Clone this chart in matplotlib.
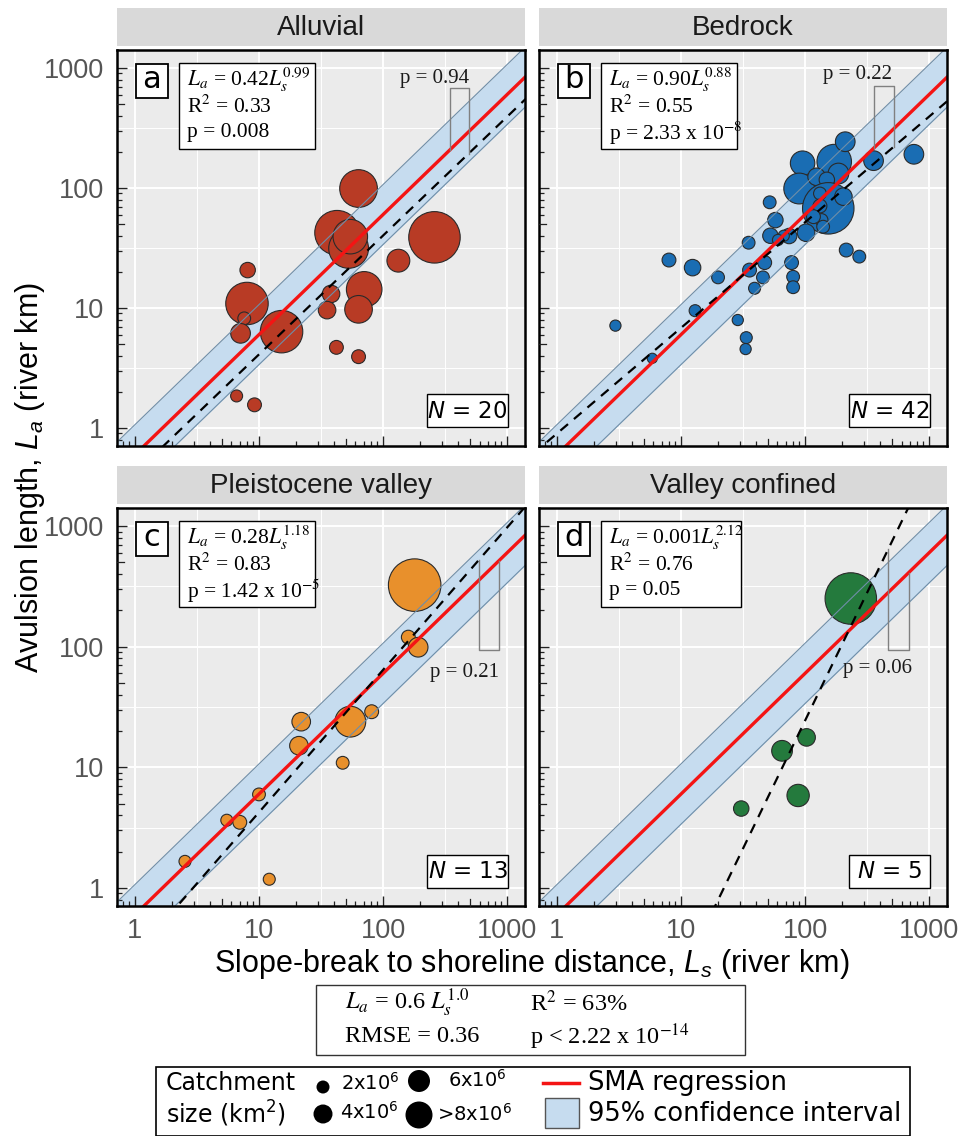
import numpy as np
import matplotlib
matplotlib.use("Agg")
import matplotlib.pyplot as plt
from matplotlib.patches import Rectangle
from matplotlib.ticker import FixedLocator, FixedFormatter, NullFormatter
from matplotlib.transforms import blended_transform_factory

plt.rcParams["mathtext.fontset"] = "custom"
plt.rcParams["mathtext.rm"] = "Liberation Sans"
plt.rcParams["mathtext.it"] = "Liberation Sans:italic"
plt.rcParams["mathtext.sf"] = "Liberation Sans"

# ---------------- data ----------------
panel_titles = ["Alluvial", "Bedrock", "Pleistocene valley", "Valley confined"]
panel_letters = ["a", "b", "c", "d"]
panel_colors = ["#B83B25", "#1A6DB3", "#E8902C", "#247A3D"]

# slope-break to shoreline distance Ls (river km), avulsion length La (river km),
# catchment size (10^6 km^2)
alluvial_Ls = [63.5, 42.6, 52.8, 54.5, 260, 133, 8.1, 8.0, 7.6, 7.1, 15.2, 38.1, 35.4, 70.5, 63.5, 42.1, 63.5, 6.6, 9.2, 48]
alluvial_La = [99, 42.4, 31.4, 39.3, 38.8, 24.8, 20.7, 10.9, 8.2, 6.15, 6.35, 13.1, 9.6, 14.3, 9.75, 4.7, 3.93, 1.85, 1.56, 36]
alluvial_area = [5.3, 6.6, 5.7, 4.7, 7.9, 2.5, 1.1, 6.2, 0.6, 1.9, 6.2, 1.5, 1.5, 4.9, 3.4, 0.8, 0.8, 0.45, 0.8, 2.1]
alluvial_order = [0, 1, 19, 2, 3, 4, 5, 6, 7, 8, 9, 10, 11, 12, 13, 14, 15, 16, 17, 18]

bedrock_Ls = [211, 755, 357, 95.6, 172, 89.8, 150, 154, 132, 136, 51.9, 57.7, 102, 52.6, 74.5, 67.4, 35.1,
              215, 274, 8.0, 12.4, 47.3, 77.9, 35.7, 19.9, 45.8, 80.2, 39.2, 80.2, 13.0, 2.96, 28.7, 33.6,
              33.2, 5.87, 132, 117, 204, 124, 140, 60.6, 186]
bedrock_La = [243, 191, 169, 161, 166, 99, 117, 67.7, 70.8, 54.1, 76, 54, 42.4, 40, 39.8, 40, 35,
              30.4, 26.8, 25.1, 21.7, 23.9, 23.9, 20.7, 18.0, 18.0, 18.2, 14.6, 14.9, 9.5, 7.13, 7.94, 5.66,
              4.55, 3.81, 90, 57.7, 84.7, 124, 47.6, 36.9, 132]
bedrock_area = [1.9, 1.9, 1.9, 2.8, 4.7, 4.0, 1.1, 7.9, 0.8, 0.6, 0.6, 1.1, 1.5, 1.1, 1.1, 0.3, 0.6,
                0.8, 0.6, 0.8, 1.3, 0.8, 0.8, 0.8, 0.6, 0.6, 0.6, 0.45, 0.6, 0.45, 0.3, 0.3, 0.45,
                0.3, 0.1, 0.6, 0.8, 1.5, 1.5, 0.6, 0.3, 2.1]
bedrock_order = [3, 5, 4, 0, 1, 2, 41, 38, 6, 7, 35, 37, 8, 9, 36, 39] + list(range(10, 35)) + [40]

pleist_Ls = [180, 160, 192, 81, 54.5, 21.9, 21.0, 47.3, 10.0, 5.5, 7.0, 2.53, 12.1]
pleist_La = [324, 120, 99, 28.9, 23.9, 23.9, 15.1, 10.9, 5.96, 3.64, 3.5, 1.66, 1.18]
pleist_area = [8.1, 0.8, 1.9, 0.8, 4.0, 1.7, 1.7, 0.6, 0.6, 0.45, 0.8, 0.45, 0.45]

confined_Ls = [234, 103, 65.3, 88, 30.6]
confined_La = [251, 17.7, 13.7, 5.84, 4.55]
confined_area = [7.9, 1.5, 2.1, 2.4, 1.1]

# per-category SMA fits (dashed lines) and statistics
fit_coef = [0.42, 0.90, 0.28, 0.0014]
fit_exp = [0.99, 0.88, 1.18, 2.12]
eq_coef_text = ["0.42", "0.90", "0.28", "0.001"]
eq_exp_text = ["0.99", "0.88", "1.18", "2.12"]
r2_text = ["0.33", "0.55", "0.83", "0.76"]
p_text = ["0.008", r"2.33 x 10$^{-8}$", r"1.42 x 10$^{-5}$", "0.05"]
n_text = ["20", "42", "13", "5"]
slope_p_text = ["0.94", "0.22", "0.21", "0.06"]
# bracket comparing category slope with global slope: x-positions and end level
bracket_x = [(344, 490), (362, 519), (597, 863), (470, 684)]
bracket_level = [685, 712, 94.4, 94.4]

# global SMA regression
global_coef = 0.6
global_exp = 1.0
ci_half_decades = 0.25

x_ticks = [1, 10, 100, 1000]
x_ticklabels = ["1", "10", "100", "1000"]
legend_size_labels = [r"2x10$^6$", r"4x10$^6$", r"6x10$^6$", r">8x10$^6$"]

# ---------------- layout ----------------
W, H, DPI = 962, 1136, 100
fig = plt.figure(figsize=(W / DPI, H / DPI), dpi=DPI)
fig.patch.set_facecolor("white")

panel_px = [(117, 50, 525, 446), (539, 50, 947, 446), (117, 508, 525, 906), (539, 508, 947, 906)]
XLIM = (10 ** -0.145, 10 ** 3.145)
YLIM = (10 ** -0.15, 10 ** 3.15)


def fig_rect(l, t, r, b):
    return [l / W, 1 - b / H, (r - l) / W, (b - t) / H]


def msize(area):
    r = 4.8 + 2.65 * np.asarray(area)
    return (2 * r * 72 / DPI) ** 2


datasets = [
    (alluvial_Ls, alluvial_La, alluvial_area, alluvial_order),
    (bedrock_Ls, bedrock_La, bedrock_area, bedrock_order),
    (pleist_Ls, pleist_La, pleist_area, list(range(len(pleist_Ls)))),
    (confined_Ls, confined_La, confined_area, list(range(len(confined_Ls)))),
]

serif = "Liberation Serif"
tick_color = "#555555"
band_fill = "#c6dcef"
band_edge = "#6f8ea8"

axes = []
for i, (Ls, La, area, order) in enumerate(datasets):
    l, t, r, b = panel_px[i]
    ax = fig.add_axes(fig_rect(l, t, r, b))
    axes.append(ax)
    ax.set_xscale("log")
    ax.set_yscale("log")
    ax.set_xlim(*XLIM)
    ax.set_ylim(*YLIM)
    ax.set_facecolor("#ebebeb")
    # grid
    for k in range(-1, 4):
        ax.axvline(10 ** (k + 0.5), color="white", lw=0.7, zorder=0.5)
        ax.axhline(10 ** (k + 0.5), color="white", lw=0.7, zorder=0.5)
        ax.axvline(10 ** k, color="white", lw=1.4, zorder=0.6)
        ax.axhline(10 ** k, color="white", lw=1.4, zorder=0.6)

    xs = np.logspace(-0.3, 3.3, 300)
    yc = global_coef * xs ** global_exp
    ax.fill_between(xs, yc / 10 ** ci_half_decades, yc * 10 ** ci_half_decades,
                    color=band_fill, lw=0, zorder=1)
    ax.plot(xs, yc / 10 ** ci_half_decades, color=band_edge, lw=0.8, zorder=4)
    ax.plot(xs, yc * 10 ** ci_half_decades, color=band_edge, lw=0.8, zorder=4)

    Ls_a = np.asarray(Ls)[order]
    La_a = np.asarray(La)[order]
    ar_a = np.asarray(area)[order]
    ax.scatter(Ls_a, La_a, s=msize(ar_a), c=panel_colors[i], edgecolors="#2a2a2a",
               linewidths=0.8, zorder=3)

    ax.plot(xs, yc, color="#f41414", lw=2.4, zorder=5)
    yd = fit_coef[i] * xs ** fit_exp[i]
    ax.plot(xs, yd, color="black", lw=1.6, dashes=(4.5, 3.5), zorder=6)

    # bracket
    x1, x2 = bracket_x[i]
    lev = bracket_level[i]
    if i < 2:
        y1 = global_coef * x1 ** global_exp
        y2 = fit_coef[i] * x2 ** fit_exp[i]
    else:
        y1 = fit_coef[i] * x1 ** fit_exp[i]
        y2 = global_coef * x2 ** global_exp
    ax.plot([x1, x1, x2, x2], [y1, lev, lev, y2], color="#808080", lw=1.0, zorder=6)

    # spines / ticks
    for sp in ax.spines.values():
        sp.set_color("black")
        sp.set_linewidth(1.8)
        sp.set_zorder(8)
    ax.xaxis.set_major_locator(FixedLocator(x_ticks))
    ax.yaxis.set_major_locator(FixedLocator(x_ticks))
    minors = [m * 10 ** k for k in range(-1, 4) for m in (2, 3, 4, 6, 7, 8, 9)]
    ax.xaxis.set_minor_locator(FixedLocator(minors))
    ax.yaxis.set_minor_locator(FixedLocator(minors))
    ax.xaxis.set_minor_formatter(NullFormatter())
    ax.yaxis.set_minor_formatter(NullFormatter())
    if i in (2, 3):
        ax.xaxis.set_major_formatter(FixedFormatter(x_ticklabels))
    else:
        ax.xaxis.set_major_formatter(NullFormatter())
    if i in (0, 2):
        ax.yaxis.set_major_formatter(FixedFormatter(x_ticklabels))
    else:
        ax.yaxis.set_major_formatter(NullFormatter())
    ax.tick_params(which="major", direction="in", length=7.5, width=1.0, color="#222222",
                   labelsize=19.5, labelcolor=tick_color, pad=9)
    ax.tick_params(which="minor", direction="in", length=3.8, width=0.9, color="#222222")
    for lab in ax.get_xticklabels() + ax.get_yticklabels():
        lab.set_family("Liberation Sans")
    # medium ticks at 5 x 10^k
    hpx = (b - t)
    wpx = (r - l)
    tx = blended_transform_factory(ax.transData, ax.transAxes)
    ty = blended_transform_factory(ax.transAxes, ax.transData)
    for k in range(-1, 4):
        v = 5 * 10 ** k
        if XLIM[0] < v < XLIM[1]:
            ax.plot([v, v], [0, 7.5 / hpx], transform=tx, color="#222222", lw=0.9, zorder=9, clip_on=False)
        if YLIM[0] < v < YLIM[1]:
            ax.plot([0, 7.5 / wpx], [v, v], transform=ty, color="#222222", lw=0.9, zorder=9, clip_on=False)

# ---------------- overlay (strips, boxes, legend) ----------------
ov = fig.add_axes([0, 0, 1, 1])
ov.set_xlim(0, W)
ov.set_ylim(H, 0)
ov.axis("off")
ov.set_zorder(20)
ov.patch.set_alpha(0)

strip_top = [8, 8, 466, 466]
for i in range(4):
    l, t, r, b = panel_px[i]
    st = strip_top[i]
    ov.add_patch(Rectangle((l, st), r - l, t - 4 - st, fc="#d9d9d9", ec="none"))
    ov.text((l + r) / 2, (st + t - 4) / 2 + 1, panel_titles[i], ha="center", va="center",
            fontsize=20, family="Liberation Sans", color="#1a1a1a")

    # letter box
    ov.add_patch(Rectangle((l + 19, t + 14), 32, 34, fc="white", ec="black", lw=1.3))
    ov.text(l + 35, t + 30, panel_letters[i], ha="center", va="center", fontsize=22,
            family="DejaVu Sans")

    # stats box
    bw = 140 if i == 3 else 136
    ov.add_patch(Rectangle((l + 62, t + 13), bw, 86, fc="white", ec="black", lw=1.0))
    tx0 = l + 70
    ov.text(tx0, t + 30, r"$L_a$ = " + eq_coef_text[i] + r"$L_s^{\mathit{" + eq_exp_text[i] + "}}$",
            ha="left", va="center", fontsize=15.5, family=serif, math_fontfamily="stix")
    ov.text(tx0, t + 57, r"R$^2$ = " + r2_text[i], ha="left", va="center", fontsize=15.5,
            family=serif, math_fontfamily="stix")
    ov.text(tx0, t + 83, "p = " + p_text[i], ha="left", va="center", fontsize=15.5,
            family=serif, math_fontfamily="stix")

    # N box
    nt = t + 344 if i < 2 else t + 347
    ov.add_patch(Rectangle((l + 310, nt), 81, 33, fc="white", ec="black", lw=1.0))
    ov.text(l + 350.5, nt + 17, r"$N$ = " + n_text[i], ha="center", va="center", fontsize=16.5,
            family="DejaVu Sans", math_fontfamily="dejavusans")

# slope comparison p labels
p_pos = [(435, 78), (858, 75), (465, 673), (878, 668)]
for i in range(4):
    ov.text(p_pos[i][0], p_pos[i][1], "p = " + slope_p_text[i], ha="center", va="center",
            fontsize=15, family=serif, color="#1a1a1a")

# axis titles
fig.text(30 / W, 1 - 478 / H, r"Avulsion length, $L_a$ (river km)", rotation=90,
         ha="center", va="center", fontsize=22, family="Liberation Sans")
fig.text(532 / W, 1 - 964 / H, r"Slope-break to shoreline distance, $L_s$ (river km)",
         ha="center", va="center", fontsize=22, family="Liberation Sans")

# overall statistics box
ov.add_patch(Rectangle((316, 985), 429, 70, fc="white", ec="#333333", lw=1.0))
st_kw = dict(ha="left", va="center", fontsize=17.5, family=serif, math_fontfamily="stix")
ov.text(345, 1003, r"$L_a$ = 0.6 $L_s^{1.0}$", **st_kw)
ov.text(530, 1003, r"R$^2$ = 63%", **st_kw)
ov.text(345, 1037, "RMSE = 0.36", **st_kw)
ov.text(530, 1037, r"p < 2.22 x 10$^{-14}$", **st_kw)

# legend
ov.add_patch(Rectangle((156, 1067), 754, 68.5, fc="white", ec="black", lw=1.2))
lg_kw = dict(ha="left", va="center", family="DejaVu Sans", math_fontfamily="dejavusans")
ov.text(166, 1083, "Catchment", fontsize=17, **lg_kw)
ov.text(166, 1114, r"size (km$^2$)", fontsize=17, **lg_kw)
leg_dot_xy = [(323, 1087), (323, 1114), (419, 1081), (419, 1115)]
leg_dot_d = [13, 19, 22, 27]
leg_txt_xy = [(341, 1083), (340, 1112), (448, 1080), (437, 1114)]
for (dx, dy), d, (lx, ly), lab in zip(leg_dot_xy, leg_dot_d, leg_txt_xy, legend_size_labels):
    ov.scatter([dx], [dy], s=(d * 72 / DPI) ** 2, c="black", edgecolors="none")
    ov.text(lx, ly, lab, fontsize=14, **lg_kw)
ov.plot([543, 579], [1083, 1083], color="#f41414", lw=2.5)
ov.text(588, 1083, "SMA regression", fontsize=18.5, **lg_kw)
ov.add_patch(Rectangle((545, 1098), 34, 30, fc=band_fill, ec="#555555", lw=1.0))
ov.text(588, 1114, "95% confidence interval", fontsize=18.5, **lg_kw)

fig.savefig("out.png", dpi=DPI, facecolor="white")
